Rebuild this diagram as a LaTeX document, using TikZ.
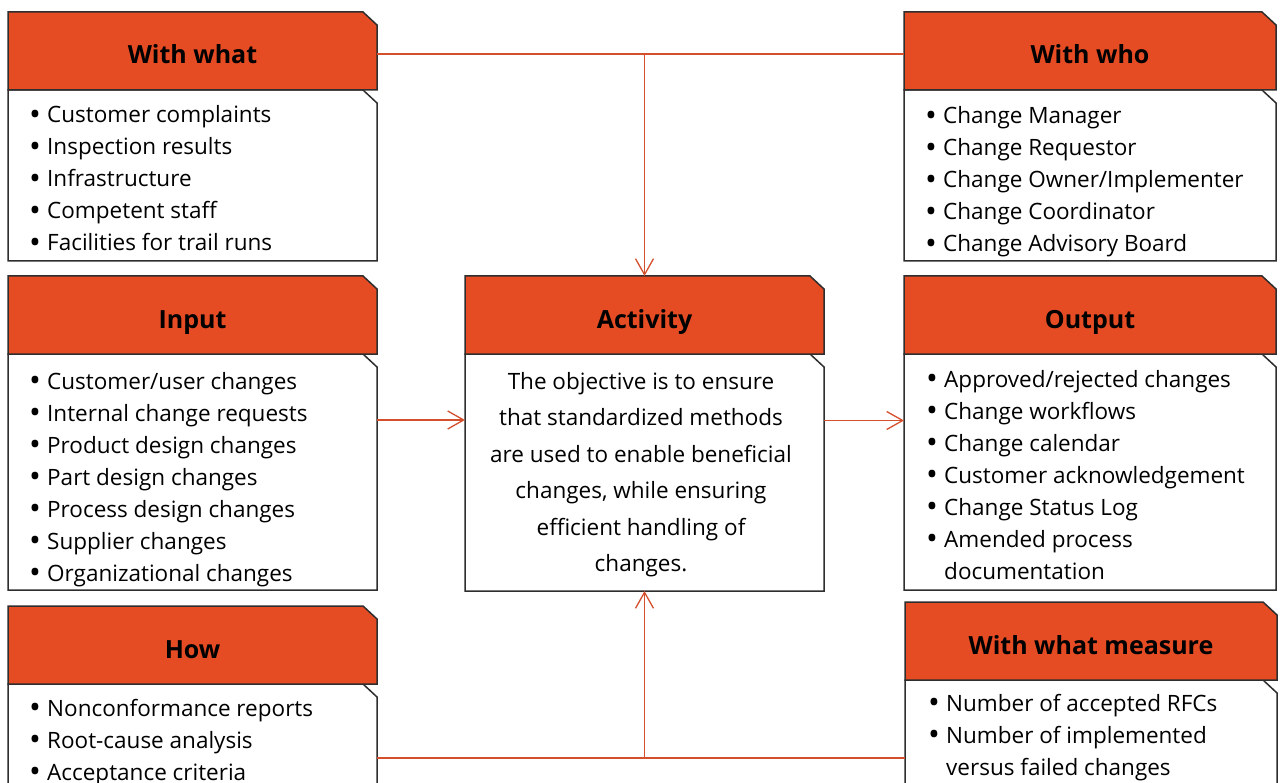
\documentclass[tikz,border=0pt]{standalone}
\usepackage{fontspec}
\setmainfont{Open Sans}
\usetikzlibrary{positioning,arrows.meta,backgrounds}
\definecolor{orange1}{HTML}{E54C24}
\definecolor{edge1}{HTML}{2E2E2E}
\definecolor{link1}{HTML}{D4502C}

\newcommand{\bul}{\makebox[18pt][l]{\raisebox{-2.5pt}{\scalebox{1.4}{\textbullet}}}}
\newcommand{\chambox}[2]{%
  \filldraw[fill=#2, draw=edge1, line width=1.5pt] (#1.south west) -- (#1.north west)
    -- ([xshift=-14pt]#1.north east) -- ([yshift=-13pt]#1.north east) -- (#1.south east) -- cycle;}

\tikzset{
  head/.style={minimum width=369pt, minimum height=78pt, inner sep=0pt, outer sep=0pt,
    text height=26pt, text depth=0pt, font=\fontsize{25}{28}\selectfont\bfseries},
  body/.style={minimum width=369pt, inner sep=0pt, outer sep=0pt},
  list/.style={anchor=base west, align=left, inner sep=0pt, font=\fontsize{22.5}{32}\selectfont},
  link/.style={draw=link1, line width=1.3pt},
  tip/.style={-{Straight Barb[length=16pt, width=18pt]}}
}

\begin{document}
\begin{tikzpicture}[x=1pt, y=-1pt]
\useasboundingbox (0,0) rectangle (1281,783);

% headers
\node[head] (whatHead) at (192.5,51) {With what};
\node[head, minimum width=372pt] (whoHead) at (1090,51) {With who};
\node[head] (inHead) at (192.5,315) {Input};
\node[head, minimum width=359pt] (actHead) at (644.5,315) {Activity};
\node[head, minimum width=372pt] (outHead) at (1090,315) {Output};
\node[head] (howHead) at (192.5,645) {How};
\node[head, minimum width=372pt] (measHead) at (1091,641) {With what measure};

% bodies
\node[body, minimum height=171pt, below=0pt of whatHead] (whatBody) {};
\node[body, minimum width=372pt, minimum height=171pt, below=0pt of whoHead] (whoBody) {};
\node[body, minimum height=236pt, below=0pt of inHead] (inBody) {};
\node[body, minimum width=359pt, minimum height=237pt, below=0pt of actHead] (actBody) {};
\node[body, minimum width=372pt, minimum height=236pt, below=0pt of outHead] (outBody) {};
\node[body, minimum height=148pt, below=0pt of howHead] (howBody) {};
\node[body, minimum width=372pt, minimum height=156pt, below=0pt of measHead] (measBody) {};

% lists (placed by the baseline of their last line)
\node[list] (whatList) at ([xshift=21pt, yshift=-161pt]whatBody.north west)
  {\bul Customer complaints\\ \bul Inspection results\\ \bul Infrastructure\\
   \bul Competent staff\\ \bul Facilities for trail runs};
\node[list] (whoList) at ([xshift=21pt, yshift=-162pt]whoBody.north west)
  {\bul Change Manager\\ \bul Change Requestor\\ \bul Change Owner/Implementer\\
   \bul Change Coordinator\\ \bul Change Advisory Board};
\node[list] (inList) at ([xshift=21pt, yshift=-227pt]inBody.north west)
  {\bul Customer/user changes\\ \bul Internal change requests\\ \bul Product design changes\\
   \bul Part design changes\\ \bul Process design changes\\ \bul Supplier changes\\
   \bul Organizational changes};
\node[list] (outList) at ([xshift=22pt, yshift=-225pt]outBody.north west)
  {\bul Approved/rejected changes\\ \bul Change workflows\\ \bul Change calendar\\
   \bul Customer acknowledgement\\ \bul Change Status Log\\ \bul Amended process\\
   \hspace*{18pt}documentation};
\node[list] (howList) at ([xshift=21pt, yshift=-96pt]howBody.north west)
  {\bul Nonconformance reports\\ \bul Root-cause analysis\\ \bul Acceptance criteria};
\node[list] (measList) at ([xshift=23pt, yshift=-95pt]measBody.north west)
  {\bul Number of accepted RFCs\\ \bul Number of implemented\\
   \hspace*{18pt}versus failed changes};
\node[anchor=base, align=center, inner sep=0pt, font=\fontsize{22.5}{36.5}\selectfont]
  (actText) at ([xshift=-3.5pt, yshift=-217.5pt]actBody.north)
  {The objective is to ensure\\ that standardized methods\\ are used to enable beneficial\\
   changes, while ensuring\\ efficient handling of\\ changes.};

% connectors
\draw[link] ([yshift=-3pt]whatHead.east) -- ([yshift=-3pt]whoHead.west);
\draw[link, tip] ([yshift=-3pt]whatHead.east -| actHead.north) -- (actHead.north);
\draw[link, tip] ([yshift=52pt]inBody.east) -- ([yshift=52pt]inBody.east -| actBody.west);
\draw[link, tip] ([yshift=52pt]actBody.east) -- ([yshift=52pt]actBody.east -| outBody.west);
\draw[link] (howBody.east) -- (howBody.east -| measBody.west);
\draw[link, tip] (howBody.east -| actBody.south) -- (actBody.south);

\begin{scope}[on background layer]
\chambox{whatBody}{white} \chambox{whatHead}{orange1}
\chambox{whoBody}{white} \chambox{whoHead}{orange1}
\chambox{inBody}{white} \chambox{inHead}{orange1}
\chambox{actBody}{white} \chambox{actHead}{orange1}
\chambox{outBody}{white} \chambox{outHead}{orange1}
\chambox{howBody}{white} \chambox{howHead}{orange1}
\chambox{measBody}{white} \chambox{measHead}{orange1}
\end{scope}
\end{tikzpicture}
\end{document}
